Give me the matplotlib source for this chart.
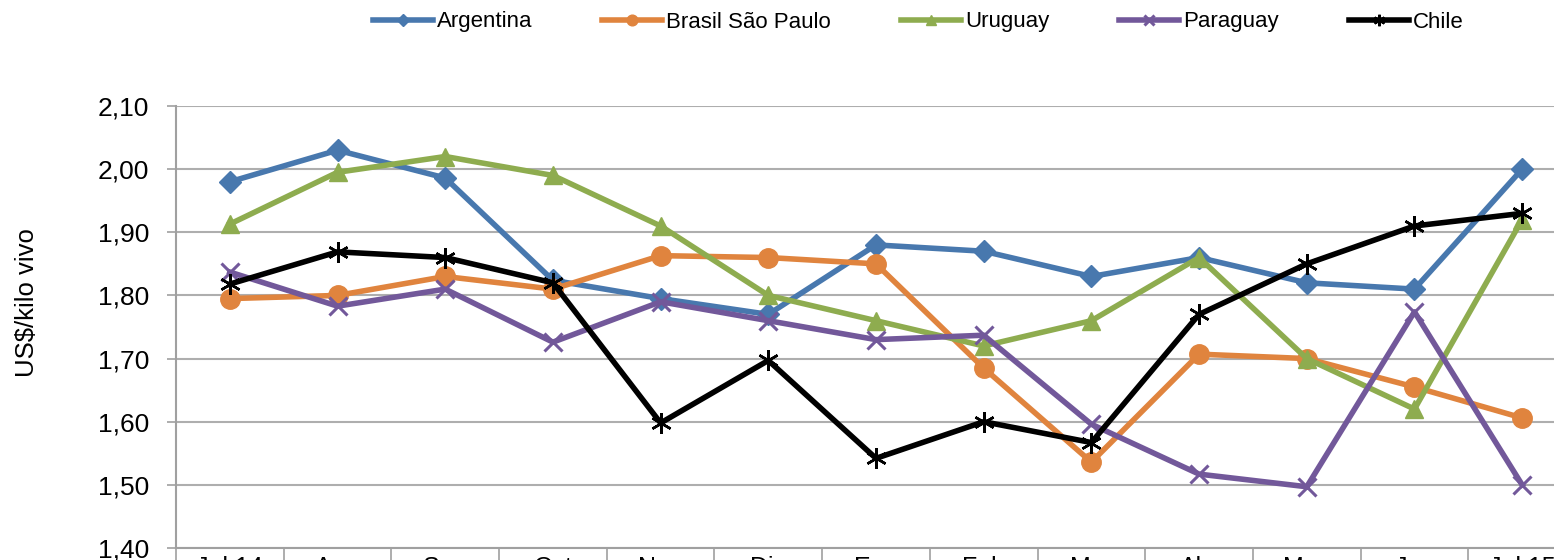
import numpy as np
import matplotlib
matplotlib.use("Agg")
from matplotlib import pyplot as plt
from matplotlib.ticker import FixedLocator

plt.rcParams['font.family'] = ['Liberation Sans', 'DejaVu Sans']

meses = ["Jul 14", "Ago", "Sep", "Oct", "Nov", "Dic", "Ene", "Feb", "Mar",
         "Abr", "May", "Jun", "Jul 15"]

argentina = [1.98, 2.03, 1.986, 1.824, 1.795, 1.77, 1.88, 1.87, 1.83, 1.86, 1.82, 1.81, 2.00]
brasil    = [1.795, 1.80, 1.83, 1.81, 1.863, 1.86, 1.85, 1.685, 1.536, 1.707, 1.70, 1.655, 1.606]
uruguay   = [1.913, 1.995, 2.02, 1.99, 1.91, 1.80, 1.76, 1.72, 1.76, 1.86, 1.70, 1.62, 1.92]
paraguay  = [1.837, 1.783, 1.81, 1.726, 1.79, 1.76, 1.73, 1.737, 1.596, 1.517, 1.497, 1.774, 1.50]
chile     = [1.818, 1.869, 1.86, 1.82, 1.598, 1.697, 1.542, 1.60, 1.567, 1.77, 1.85, 1.91, 1.93]

W, H = 1554, 560
fig = plt.figure(figsize=(W/100, H/100), dpi=100)
# axes runs past the right edge like the cropped original
left, bottom, top = 176, 548, 106
ax = fig.add_axes([left/W, (H-bottom)/H, 1400/W, (bottom-top)/H])

x = np.arange(len(meses))
lw = 4.0
ax.plot(x, argentina, color='#4878AE', lw=lw, marker='D', ms=11, label='Argentina')
ax.plot(x, brasil, color='#E0843E', lw=lw, marker='o', ms=14, label='Brasil São Paulo')
ax.plot(x, uruguay, color='#8EAC4F', lw=lw, marker='^', ms=13, label='Uruguay')
ax.plot(x, paraguay, color='#72589A', lw=lw, marker='x', ms=13, mew=2.2, label='Paraguay')
ax.plot(x, chile, color='black', lw=lw, marker=(6, 2, 0), ms=15, mew=1.8, label='Chile')

ax.set_xlim(-0.5, len(meses)-0.5)
ax.set_ylim(1.40, 2.10)
yt = np.arange(1.40, 2.101, 0.10)
ax.set_yticks(yt)
ax.set_yticklabels([f"{v:.2f}".replace('.', ',') for v in yt], fontsize=19)
ax.yaxis.grid(True, color='#AEAEAE', lw=1.5)
ax.set_axisbelow(True)

ax.set_xticks(x)
ax.set_xticklabels(meses, fontsize=18)
ax.xaxis.set_minor_locator(FixedLocator(np.arange(-0.5, len(meses), 1.0)))
ax.tick_params(axis='x', which='major', length=0, pad=5.5)
ax.tick_params(axis='x', which='minor', length=20, width=1.2, color='#A0A0A0')
ax.tick_params(axis='y', length=6.5, width=1.2, color='#A0A0A0', pad=13)

for s in ['top', 'right']:
    ax.spines[s].set_visible(False)
for s in ['left', 'bottom']:
    ax.spines[s].set_color('#A0A0A0')
    ax.spines[s].set_linewidth(1.5)

fig.text(27/W, 1-303/H, 'US$/kilo vivo', rotation=90, fontsize=18.5,
         ha='center', va='center')

fig.legend(loc='center', bbox_to_anchor=(918/W, 1-22/H), ncol=5, frameon=False,
           fontsize=16, handlelength=2.7, handletextpad=0.18, columnspacing=3.15,
           markerscale=0.55)

fig.savefig('out.png', dpi=100)
